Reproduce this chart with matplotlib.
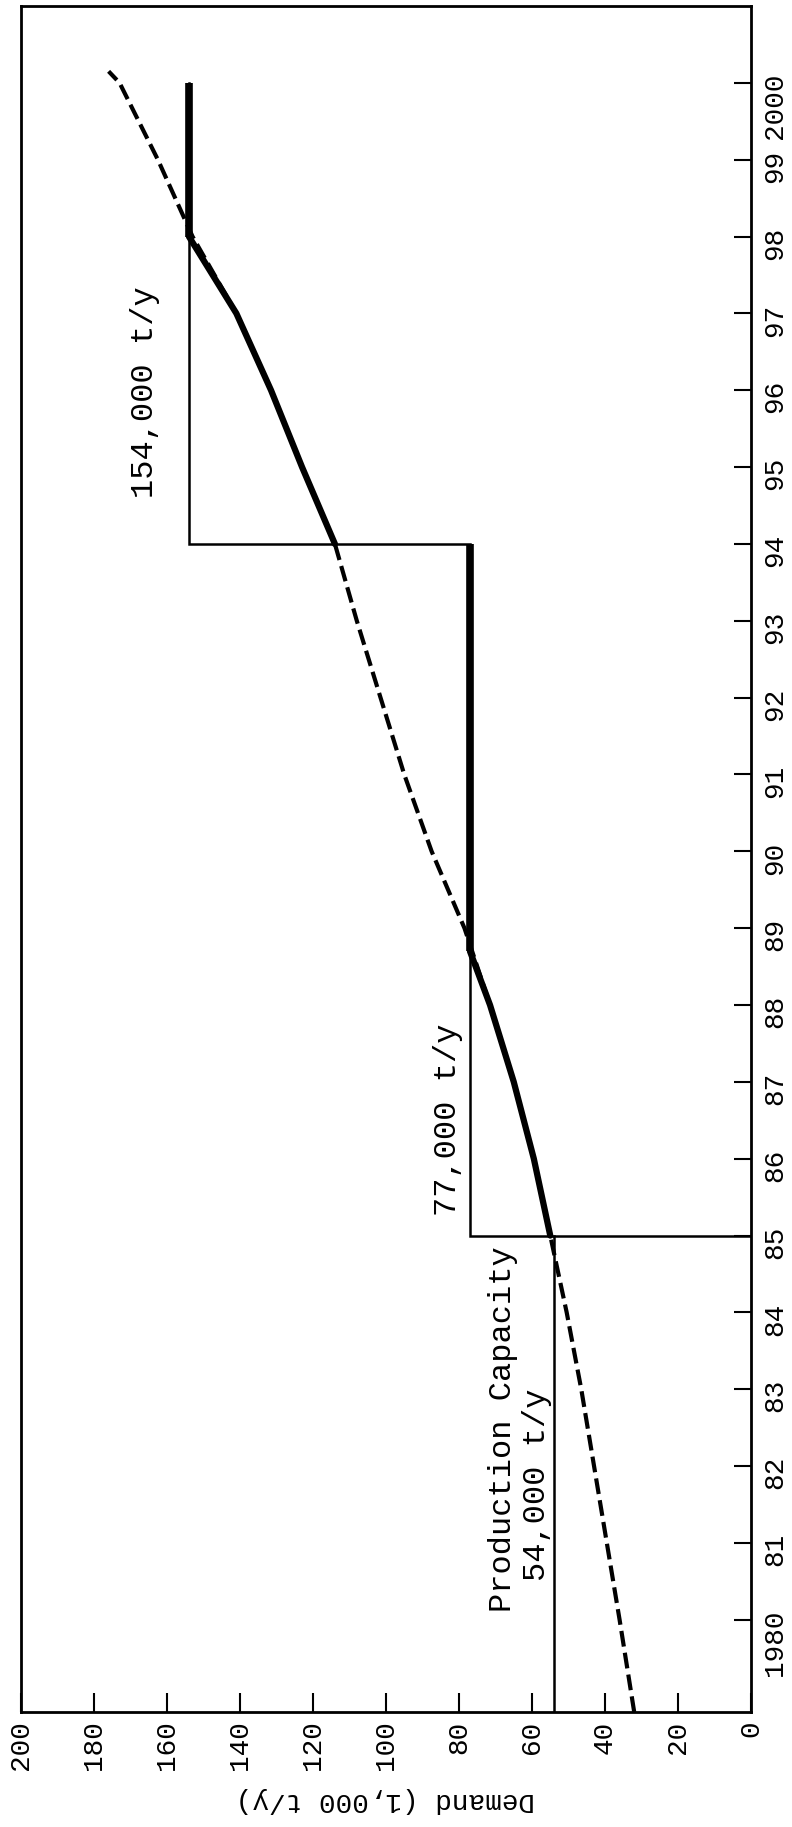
import matplotlib
matplotlib.use("Agg")
import matplotlib.pyplot as plt

# projected demand (dashed), 1,000 t/y by year
proj_years = [1978.8, 1980, 1981, 1982, 1983, 1984, 1985, 1986, 1987, 1988, 1989,
              1990, 1991, 1992, 1993, 1994, 1995, 1996, 1997, 1998, 1999, 2000, 2000.15]
proj_demand = [32, 36, 39.5, 43, 46.5, 50.5, 55, 59.5, 65, 71.5, 78.5,
               87.5, 95, 101.5, 108, 114, 123, 131.5, 141, 153, 162.5, 173, 176]

# demand met below capacity (thick solid)
solid1_years = [1985, 1986, 1987, 1988, 1988.7]
solid1_demand = [55, 59.5, 65, 71.5, 77]
solid2_years = [1994, 1995, 1996, 1997, 1998]
solid2_demand = [114, 123, 131.5, 141, 154]

# production capacity steps
cap_years = [1978.8, 1985, 1985, 1994, 1994, 2000]
cap_values = [54, 54, 77, 77, 154, 154]
start_years = [1985, 1985]
start_values = [0, 54]

# capacity fully used (thick bars)
full1_years = [1988.7, 1994]
full1_values = [77, 77]
full2_years = [1998, 2000]
full2_values = [154, 154]

year_ticks = list(range(1980, 2001))
year_labels = ["1980"] + [str(y % 100) for y in range(1981, 2000)] + ["2000"]
demand_ticks = list(range(0, 201, 20))

plt.rcParams['font.family'] = ['Liberation Mono', 'DejaVu Sans Mono']

fig = plt.figure(figsize=(7.92, 18.27), dpi=100)
ax = fig.add_axes([21 / 792, 1 - 1712 / 1827, 730 / 792, 1706 / 1827])

ax.plot(proj_demand, proj_years, color='black', lw=3, ls=(0, (3.8, 1.5)))
ax.plot(cap_values, cap_years, color='black', lw=1.8, solid_joinstyle='miter')
ax.plot(start_values, start_years, color='black', lw=1.8)
ax.plot(full1_values, full1_years, color='black', lw=5.5, solid_capstyle='butt')
ax.plot(full2_values, full2_years, color='black', lw=5.5, solid_capstyle='butt')
ax.plot(solid1_demand, solid1_years, color='black', lw=4.5, solid_capstyle='round',
        solid_joinstyle='round')
ax.plot(solid2_demand, solid2_years, color='black', lw=4.5, solid_capstyle='round',
        solid_joinstyle='round')

ax.text(166, 1994.6, "154,000 t/y", rotation=90, ha='center', va='bottom', fontsize=23)
ax.text(83, 1985.25, "77,000 t/y", rotation=90, ha='center', va='bottom', fontsize=23)
ax.text(68, 1980.1, "Production Capacity", rotation=90, ha='center', va='bottom', fontsize=23)
ax.text(58.7, 1980.5, "54,000 t/y", rotation=90, ha='center', va='bottom', fontsize=23)

ax.set_xlim(200, 0)
ax.set_ylim(1978.8, 2001)
ax.set_xticks(demand_ticks)
ax.set_yticks(year_ticks)
ax.set_yticklabels(year_labels)
ax.yaxis.tick_right()
ax.tick_params(axis='x', direction='in', length=14, width=1.5, labelsize=20,
               labelrotation=90, pad=6)
ax.tick_params(axis='y', direction='in', length=12, width=1.5, labelsize=20,
               labelrotation=90, pad=8)
for s in ax.spines.values():
    s.set_linewidth(2)

fig.text(385 / 792, 1 - 1800 / 1827, "Demand (1,000 t/y)", rotation=180,
         ha='center', va='center', fontsize=20)

fig.savefig("out.png", dpi=100)
